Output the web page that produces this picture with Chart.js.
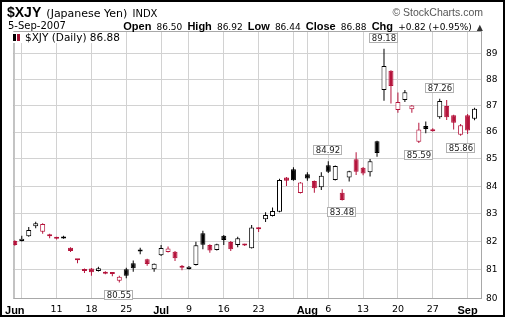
<!DOCTYPE html>
<html>
<head>
<meta charset="utf-8">
<script src="https://cdn.jsdelivr.net/npm/chart.js@4.4.0/dist/chart.umd.min.js"></script>
<style>
    body { margin: 0; background: #fff; }
    #wrap { position: relative; width: 505px; height: 319px; overflow: hidden; background: #fff; }
    #chart { position: absolute; left: 0; top: 0; }
    .txt { position: absolute; white-space: nowrap; color: #000; font-family: "DejaVu Sans", sans-serif; }
    .num { font: 9px "DejaVu Sans", sans-serif; }
    .lbl { font: bold 11px "Liberation Sans", Arial, sans-serif; }
    #title { left: 7px; top: 4px; line-height: 14px; }
    #title .sym { font: bold 14px "Liberation Sans", Arial, sans-serif; }
    #title .name { font: 11px "DejaVu Sans", sans-serif; }
    #title .exch { font: 10px "DejaVu Sans", sans-serif; }
    #copy { right: 22px; top: 6px; font: 10.5px "Liberation Sans", Arial, sans-serif; color: #555; }
    #date { left: 8px; top: 20px; font: 10px "DejaVu Sans", sans-serif; line-height: 12px; }
    #quote { right: 22px; top: 18px; line-height: 13px; }
    #quote .up { font-size: 8px; color: #333; }
    #legend { left: 12px; top: 32px; font: 10.5px "DejaVu Sans", sans-serif; line-height: 11px;
              background: #fff; padding: 0 3px 0 1px; }
    #legend .ico { display: inline-block; width: 8px; height: 7px; margin-right: 4px; position: relative; }
    #legend .ico i { position: absolute; top: 0; width: 3px; height: 7px; background: #000; }
    #legend .ico i + i { left: 4px; background: #a01030; }
    #frame { position: absolute; left: 0; top: 0; width: 501px; height: 313px; border: 2px solid #000; pointer-events: none; }
</style>
</head>
<body>
<div id="wrap">
    <canvas id="chart" width="505" height="319"></canvas>
    <div id="title" class="txt"><span class="sym">$XJY</span> <span class="name">(Japanese Yen)</span> <span class="exch">INDX</span></div>
    <div id="copy" class="txt">&copy; StockCharts.com</div>
    <div id="date" class="txt">5-Sep-2007</div>
    <div id="quote" class="txt"><span class="lbl">Open</span> <span class="num">86.50</span> <span class="lbl">High</span> <span class="num">86.92</span> <span class="lbl">Low</span> <span class="num">86.44</span> <span class="lbl">Close</span> <span class="num">86.88</span> <span class="lbl">Chg</span> <span class="num">+0.82 (+0.95%)</span> <span class="up">&#9650;</span></div>
    <div id="legend" class="txt"><span class="ico"><i></i><i></i></span>$XJY (Daily) 86.88</div>
    <div id="frame"></div>
</div>
<script>
// Daily candles, trading days Jun 1 - Sep 5 2007 (holidays skipped)
const days = [
    'Jun 1', 'Jun 4', 'Jun 5', 'Jun 6', 'Jun 7', 'Jun 8',
    'Jun 11', 'Jun 12', 'Jun 13', 'Jun 14', 'Jun 15',
    'Jun 18', 'Jun 19', 'Jun 20', 'Jun 21', 'Jun 22',
    'Jun 25', 'Jun 26', 'Jun 27', 'Jun 28', 'Jun 29',
    'Jul 2', 'Jul 3', 'Jul 5', 'Jul 6',
    'Jul 9', 'Jul 10', 'Jul 11', 'Jul 12', 'Jul 13',
    'Jul 16', 'Jul 17', 'Jul 18', 'Jul 19', 'Jul 20',
    'Jul 23', 'Jul 24', 'Jul 25', 'Jul 26', 'Jul 27',
    'Jul 30', 'Jul 31', 'Aug 1', 'Aug 2', 'Aug 3',
    'Aug 6', 'Aug 7', 'Aug 8', 'Aug 9', 'Aug 10',
    'Aug 13', 'Aug 14', 'Aug 15', 'Aug 16', 'Aug 17',
    'Aug 20', 'Aug 21', 'Aug 22', 'Aug 23', 'Aug 24',
    'Aug 27', 'Aug 28', 'Aug 29', 'Aug 30', 'Aug 31',
    'Sep 4', 'Sep 5'
];

const opens = [
    82.02, 82.02, 82.19, 82.55, 82.35, 82.26,
    82.15, 82.11, 81.78, 81.35, 81.03,
    81.04, 80.96, 80.93, 80.86, 80.61,
    81.02, 81.23, 81.65, 81.37, 81.02,
    81.51, 81.63, 81.64, 81.08,
    81.03, 81.17, 82.30, 81.88, 81.70,
    82.21, 81.98, 81.88, 81.90, 81.76,
    82.45, 82.80, 82.92, 83.07, 84.32,
    84.62, 83.75, 84.44, 84.19, 83.96,
    84.77, 84.23, 83.76, 84.32, 84.99,
    84.68, 84.51, 85.66, 87.59, 88.33,
    86.83, 87.21, 86.86, 85.64, 86.23,
    86.03, 86.56, 86.98, 86.63, 85.90,
    86.63, 86.50
];

const highs = [
    82.05, 82.21, 82.52, 82.71, 82.66, 82.28,
    82.17, 82.21, 81.80, 81.36, 81.04,
    81.06, 81.11, 80.95, 80.91, 80.79,
    81.07, 81.33, 81.78, 81.39, 81.22,
    81.88, 81.82, 81.66, 81.17,
    81.13, 81.99, 82.39, 81.90, 81.92,
    82.23, 82.02, 82.17, 81.92, 82.59,
    82.51, 83.05, 83.22, 84.27, 84.34,
    84.69, 84.15, 84.51, 84.21, 84.51,
    84.92, 84.76, 83.89, 84.57, 85.25,
    84.70, 85.00, 85.68, 89.18, 88.35,
    87.49, 87.59, 87.02, 86.35, 86.40,
    86.14, 87.26, 87.21, 86.65, 86.30,
    86.68, 86.92
];

const lows = [
    81.85, 82.00, 82.17, 82.48, 82.28, 82.12,
    82.07, 82.10, 81.63, 81.23, 80.89,
    80.79, 80.94, 80.84, 80.77, 80.55,
    80.70, 80.93, 81.55, 81.14, 80.93,
    81.49, 81.61, 81.31, 80.98,
    81.01, 81.15, 81.73, 81.60, 81.68,
    81.88, 81.66, 81.80, 81.84, 81.75,
    82.34, 82.70, 82.90, 83.05, 84.01,
    84.20, 83.73, 84.20, 83.76, 83.86,
    84.48, 84.21, 83.48, 84.17, 84.41,
    84.40, 84.35, 85.08, 87.18, 87.08,
    86.73, 87.13, 86.73, 85.59, 85.96,
    86.02, 86.50, 86.45, 86.10, 85.86,
    85.93, 86.44
];

const closes = [
    81.88, 82.10, 82.41, 82.66, 82.63, 82.19,
    82.10, 82.17, 81.66, 81.34, 80.96,
    80.91, 81.05, 80.86, 80.85, 80.75,
    80.79, 81.05, 81.66, 81.20, 81.21,
    81.77, 81.75, 81.41, 81.07,
    81.11, 81.87, 81.89, 81.68, 81.90,
    82.06, 81.73, 82.12, 81.86, 82.50,
    82.44, 82.95, 83.10, 84.23, 84.20,
    84.22, 84.13, 84.28, 83.92, 84.38,
    84.53, 84.74, 83.50, 84.55, 84.53,
    84.46, 84.92, 85.22, 88.51, 87.74,
    87.13, 87.50, 87.00, 86.10, 86.12,
    86.11, 87.17, 86.56, 86.35, 86.26,
    86.06, 86.88
];

// close of May 31, only used to colour the first candle
const priorClose = 82.10;

// x axis: week / month grid lines and their labels
const gridIdx = [0, 1, 6, 11, 16, 21, 25, 30, 35, 40, 42, 45, 50, 55, 60, 65];
const gridLabels = ['Jun', '', '11', '18', '25', 'Jul', '9', '16', '23', '', 'Aug', '6', '13', '20', '27', 'Sep'];
const monthNames = ['Jun', 'Jul', 'Aug', 'Sep'];

// y axis ticks (log scale)
const yTicks = [80, 81, 82, 83, 84, 85, 86, 87, 88, 89];

// highs / lows that get a value box
const markIdx = [15, 45, 47, 53, 58, 61, 64];
const markSide = ['low', 'high', 'low', 'high', 'low', 'high', 'low'];

const upColor = '#000000';
const downColor = '#b5143c';

// Candle colour: black when close >= previous close, red otherwise
function candleColor(i) {
    const prev = i === 0 ? priorClose : closes[i - 1];
    return closes[i] >= prev ? upColor : downColor;
}

const lineColors = closes.map((c, i) => candleColor(i));
const fillColors = closes.map((c, i) => c < opens[i] ? lineColors[i] : '#ffffff');
const wickData = days.map((d, i) => ({ x: i, y: [lows[i], highs[i]] }));
const bodyData = days.map((d, i) => ({ x: i, y: [Math.min(opens[i], closes[i]), Math.max(opens[i], closes[i])] }));

// Plot frame and the little value boxes
const framePlugin = {
    id: 'framePlugin',
    beforeDatasetsDraw(chart) {
        const { ctx, chartArea: a } = chart;
        ctx.save();
        ctx.strokeStyle = '#a8a8a8';
        ctx.lineWidth = 1;
        ctx.strokeRect(a.left + 0.5, a.top + 0.5, a.right - a.left - 1, a.bottom - a.top - 1);
        ctx.restore();
    },
    afterDatasetsDraw(chart) {
        const { ctx, scales: { x, y } } = chart;
        ctx.save();
        ctx.font = '8.5px "DejaVu Sans"';
        ctx.textAlign = 'center';
        ctx.textBaseline = 'middle';
        markIdx.forEach((i, k) => {
            const isHigh = markSide[k] === 'high';
            const value = isHigh ? highs[i] : lows[i];
            const text = value.toFixed(2);
            const cx = Math.round(x.getPixelForValue(i));
            const py = y.getPixelForValue(value);
            const w = Math.ceil(ctx.measureText(text).width) + 4;
            const h = 10;
            const top = Math.round(isHigh ? py - 6 - h : py + 7);
            const left = cx - Math.round(w / 2);
            ctx.fillStyle = '#ffffff';
            ctx.fillRect(left, top, w, h);
            ctx.strokeStyle = '#b0b0b0';
            ctx.strokeRect(left + 0.5, top + 0.5, w - 1, h - 1);
            ctx.fillStyle = '#222';
            ctx.fillText(text, cx, top + h / 2 + 0.5);
        });
        ctx.restore();
    }
};

const ctx = document.getElementById('chart').getContext('2d');

window.yenChart = new Chart(ctx, {
    type: 'bar',
    data: {
        datasets: [
            {
                label: 'Body',
                data: bodyData,
                backgroundColor: fillColors,
                borderColor: lineColors,
                borderWidth: 1,
                borderSkipped: false,
                barThickness: 5,
                minBarLength: 2,
                inflateAmount: 0,
                grouped: false,
                order: 1
            },
            {
                label: 'Range',
                data: wickData,
                backgroundColor: lineColors,
                borderWidth: 0,
                barThickness: 1,
                inflateAmount: 0,
                grouped: false,
                order: 2
            }
        ]
    },
    options: {
        responsive: false,
        animation: false,
        layout: {
            padding: { left: 11, top: 31, right: 0, bottom: 0 }
        },
        scales: {
            x: {
                type: 'linear',
                offset: false,
                bounds: 'data',
                min: -0.2143,
                max: 67.07,
                afterBuildTicks: function(scale) {
                    scale.ticks = gridIdx.map(v => ({ value: v }));
                },
                afterFit: function(scale) {
                    scale.height = 20;
                },
                border: { display: false },
                grid: {
                    offset: false,
                    color: '#d2d2d2',
                    drawTicks: false
                },
                ticks: {
                    autoSkip: false,
                    maxRotation: 0,
                    padding: 5,
                    color: '#000',
                    font: function(context) {
                        const label = context.tick ? context.tick.label : '';
                        if (monthNames.includes(label)) {
                            return { family: 'Liberation Sans', size: 11, weight: 'bold' };
                        }
                        return { family: 'DejaVu Sans', size: 9.5 };
                    },
                    callback: function(value, index) {
                        return gridLabels[index];
                    }
                }
            },
            y: {
                type: 'logarithmic',
                position: 'right',
                bounds: 'data',
                min: 79.976,
                max: 89.867,
                afterBuildTicks: function(scale) {
                    scale.ticks = yTicks.map(v => ({ value: v }));
                },
                afterFit: function(scale) {
                    scale.width = 23;
                },
                border: { display: false },
                grid: {
                    color: '#d2d2d2',
                    drawTicks: false
                },
                ticks: {
                    padding: 4,
                    color: '#000',
                    font: { family: 'DejaVu Sans', size: 9 },
                    callback: function(value) {
                        return String(value);
                    }
                }
            }
        },
        plugins: {
            legend: { display: false },
            tooltip: { enabled: false }
        }
    },
    plugins: [framePlugin]
});
</script>
</body>
</html>
